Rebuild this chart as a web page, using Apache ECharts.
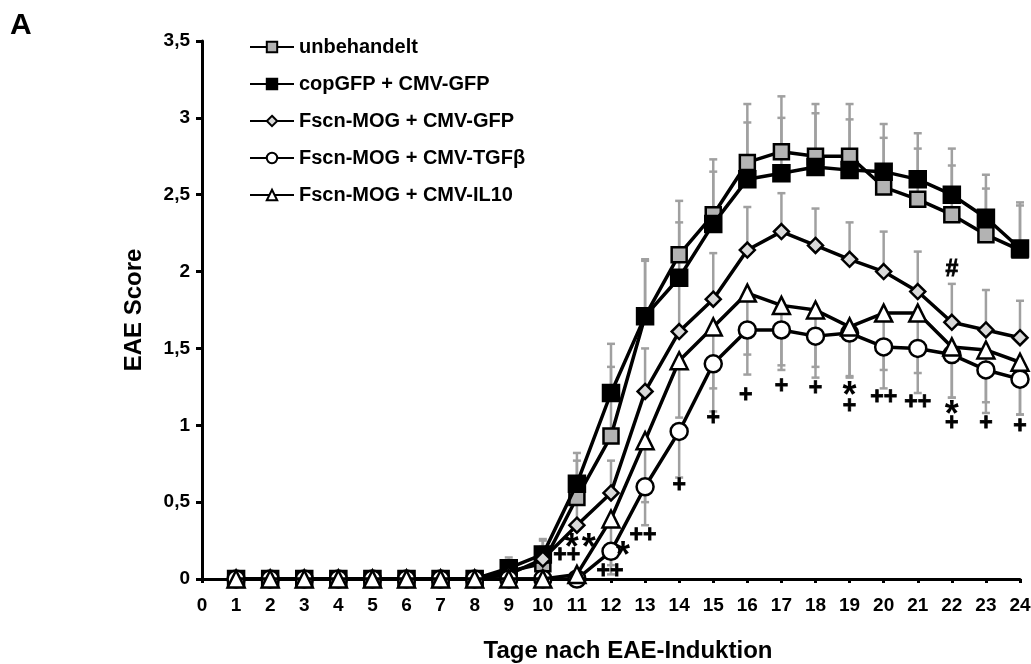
<!DOCTYPE html>
<html>
<head>
<meta charset="utf-8">
<script src="https://cdn.jsdelivr.net/npm/echarts@6/dist/echarts.min.js"></script>
<style>
  html, body { margin: 0; padding: 0; background: #fff; }
  #eaeChart { width: 1031px; height: 664px; }
</style>
</head>
<body>
<div id="eaeChart"></div>
<script>
// days 1..24
const days = [1, 2, 3, 4, 5, 6, 7, 8, 9, 10, 11, 12, 13, 14, 15, 16, 17, 18, 19, 20, 21, 22, 23, 24];
const yTicks = [0, 0.5, 1, 1.5, 2, 2.5, 3, 3.5];

const seriesNames = [
  "unbehandelt",
  "copGFP + CMV-GFP",
  "Fscn-MOG + CMV-GFP",
  "Fscn-MOG + CMV-TGFβ",
  "Fscn-MOG + CMV-IL10",
];

// mean EAE score
const unbehandelt = [0, 0, 0, 0, 0, 0, 0, 0, 0.05, 0.10, 0.53, 0.93, 1.71, 2.11, 2.37, 2.71, 2.78, 2.75, 2.75, 2.55, 2.47, 2.37, 2.24, 2.14];
const copGFP = [0, 0, 0, 0, 0, 0, 0, 0, 0.07, 0.16, 0.62, 1.21, 1.71, 1.96, 2.31, 2.60, 2.64, 2.68, 2.66, 2.65, 2.60, 2.50, 2.35, 2.15];
const mogGFP = [0, 0, 0, 0, 0, 0, 0, 0, 0.03, 0.13, 0.35, 0.56, 1.22, 1.61, 1.82, 2.14, 2.26, 2.17, 2.08, 2.00, 1.87, 1.67, 1.62, 1.57];
const mogTGFb = [0, 0, 0, 0, 0, 0, 0, 0, 0, 0, 0, 0.18, 0.60, 0.96, 1.40, 1.62, 1.62, 1.58, 1.60, 1.51, 1.50, 1.46, 1.36, 1.30];
const mogIL10 = [0, 0, 0, 0, 0, 0, 0, 0, 0, 0, 0.03, 0.39, 0.90, 1.42, 1.64, 1.86, 1.78, 1.75, 1.64, 1.73, 1.73, 1.51, 1.49, 1.41];

// error (SEM); upper groups drawn up, lower groups drawn down
const errUnbehandelt = [0, 0, 0, 0, 0, 0, 0, 0, 0.05, 0.15, 0.24, 0.45, 0.36, 0.35, 0.36, 0.38, 0.36, 0.34, 0.34, 0.32, 0.33, 0.32, 0.30, 0.29];
const errCopGFP = [0, 0, 0, 0, 0, 0, 0, 0, 0.07, 0.10, 0.20, 0.32, 0.37, 0.36, 0.34, 0.37, 0.36, 0.35, 0.33, 0.31, 0.30, 0.30, 0.28, 0.30];
const errMogGFP = [0, 0, 0, 0, 0, 0, 0, 0, 0.03, 0.08, 0.15, 0.21, 0.28, 0.35, 0.30, 0.28, 0.25, 0.24, 0.24, 0.26, 0.26, 0.25, 0.26, 0.24];
const errMogTGFb = [0, 0, 0, 0, 0, 0, 0, 0, 0, 0, 0, 0.15, 0.25, 0.30, 0.31, 0.29, 0.26, 0.27, 0.29, 0.27, 0.29, 0.28, 0.28, 0.23];
const errMogIL10 = [0, 0, 0, 0, 0, 0, 0, 0, 0, 0, 0.03, 0.30, 0.40, 0.37, 0.40, 0.40, 0.39, 0.37, 0.32, 0.37, 0.39, 0.33, 0.34, 0.34];

// significance marks
const annoX = [10.7, 10.85, 11.35, 12.35, 11.97, 12.94, 14.0, 15.0, 15.95, 17.0, 18.0, 19.0, 19.0, 20.0, 21.0, 22.0, 22.0, 22.0, 23.0, 24.0];
const annoY = [0.15, 0.25, 0.25, 0.20, 0.05, 0.28, 0.61, 1.04, 1.19, 1.25, 1.24, 1.24, 1.12, 1.18, 1.15, 2.01, 1.12, 1.01, 1.01, 0.99];
const annoText = ["++", "*", "*", "*", "++", "++", "+", "+", "+", "+", "+", "*", "+", "++", "++", "#", "*", "+", "+", "+"];

const means = [unbehandelt, copGFP, mogGFP, mogTGFb, mogIL10];
const errs = [errUnbehandelt, errCopGFP, errMogGFP, errMogTGFb, errMogIL10];
const errDir = [1, 1, 1, -1, -1];
const symbols = ["rect", "rect", "diamond", "circle", "triangle"];
const symbolSizes = [15, 16, 15, 17, 17];
const fills = ["#b3b3b3", "#000000", "#d9d9d9", "#ffffff", "#ffffff"];

const fontFam = "'Liberation Sans', Arial, sans-serif";

let myChart = echarts.init(document.getElementById("eaeChart"));

let errorSeries = means.map((m, s) => ({
  type: "custom",
  name: seriesNames[s] + " err",
  z: 1,
  silent: true,
  renderItem: function (params, api) {
    let x = api.value(0);
    let from = api.coord([x, api.value(1)]);
    let to = api.coord([x, api.value(2)]);
    let cap = 4;
    let st = { stroke: "#a0a0a0", lineWidth: 2.5 };
    return {
      type: "group",
      children: [
        { type: "line", shape: { x1: from[0], y1: from[1], x2: to[0], y2: to[1] }, style: st },
        { type: "line", shape: { x1: to[0] - cap, y1: to[1], x2: to[0] + cap, y2: to[1] }, style: st },
      ],
    };
  },
  data: days
    .map((d, i) => [d, m[i], m[i] + errDir[s] * errs[s][i]])
    .filter((r, i) => errs[s][i] > 0),
}));

let lineSeries = means.map((m, s) => ({
  name: seriesNames[s],
  type: "line",
  z: 3 + s,
  symbol: symbols[s],
  symbolSize: symbolSizes[s],
  showAllSymbol: true,
  lineStyle: { color: "#000", width: 3.5 },
  itemStyle: { color: fills[s], borderColor: "#000", borderWidth: 2.5, opacity: 1 },
  emphasis: { disabled: true },
  data: days.map((d, i) => [d, m[i]]),
}));

let annoSeries = {
  type: "scatter",
  z: 10,
  symbolSize: 2,
  itemStyle: { color: "rgba(0,0,0,0)", opacity: 1 },
  emphasis: { disabled: true },
  silent: true,
  label: {
    show: true,
    position: "inside",
    formatter: "{b}",
    color: "#000",
    fontSize: 23,
    fontWeight: "bold",
    fontFamily: fontFam,
    textBorderColor: "#000",
    textBorderWidth: 0.8,
  },
  data: annoX.map((x, i) => {
    let item = { value: [x, annoY[i]], name: annoText[i] };
    if (annoText[i] === "*") {
      item.label = { fontSize: 36, offset: [0, 9], textBorderWidth: 0 };
    }
    return item;
  }),
};

let option = {
  animation: false,
  backgroundColor: "#fff",
  title: {
    text: "A",
    left: 5,
    top: 6,
    textStyle: { fontSize: 30, fontWeight: "bold", color: "#000", fontFamily: fontFam },
  },
  legend: {
    orient: "vertical",
    left: 244,
    top: 32,
    itemWidth: 44,
    itemHeight: 13,
    itemGap: 17,
    data: seriesNames,
    textStyle: { fontSize: 20, fontWeight: "bold", color: "#000", fontFamily: fontFam },
    selectedMode: false,
  },
  grid: { left: 202, right: 11, top: 41, bottom: 85, outerBoundsMode: "none", containLabel: false },
  xAxis: {
    type: "value",
    min: 0,
    max: 24,
    interval: 1,
    name: "Tage nach EAE-Induktion",
    nameLocation: "middle",
    nameGap: 60,
    nameTextStyle: { fontSize: 24, fontWeight: "bold", color: "#000", fontFamily: fontFam, padding: [0, 0, 0, 34] },
    axisLine: { lineStyle: { color: "#000", width: 3 } },
    axisTick: { show: true, length: 4, lineStyle: { color: "#000", width: 3 } },
    axisLabel: { fontSize: 19, fontWeight: "bold", color: "#000", fontFamily: fontFam, margin: 17 },
    splitLine: { show: false },
  },
  yAxis: {
    type: "value",
    min: yTicks[0],
    max: yTicks[yTicks.length - 1],
    interval: 0.5,
    name: "EAE Score",
    nameLocation: "middle",
    nameGap: 56,
    nameRotate: 90,
    nameTextStyle: { fontSize: 24, fontWeight: "bold", color: "#000", fontFamily: fontFam },
    axisLine: { show: true, lineStyle: { color: "#000", width: 3 } },
    axisTick: { show: true, length: 6, lineStyle: { color: "#000", width: 3 } },
    axisLabel: {
      fontSize: 19,
      fontWeight: "bold",
      color: "#000",
      fontFamily: fontFam,
      margin: 12,
      formatter: (v) => String(v).replace(".", ","),
    },
    splitLine: { show: false },
  },
  series: [...errorSeries, ...lineSeries, annoSeries],
};

myChart.setOption(option);
</script>
</body>
</html>
